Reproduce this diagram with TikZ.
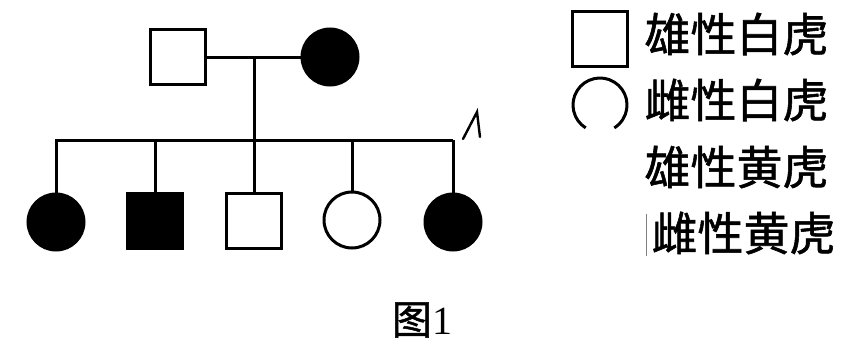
\documentclass[tikz,border=0pt]{standalone}
\usepackage{fontspec}
\newfontfamily\cjk[FakeBold=1.2]{Noto Sans CJK SC}
\newfontfamily\serifnum{Liberation Serif}
\begin{document}
\begin{tikzpicture}[x=1pt,y=-1pt, line width=3pt,
  male/.style={draw, rectangle, minimum size=55pt, inner sep=0pt},
  female/.style={draw, circle, minimum size=56pt, inner sep=0pt},
  aff/.style={fill=black},
  lbl/.style={anchor=west, inner sep=0pt, font=\cjk\fontsize{46}{46}\selectfont},
  stray/.style={line width=2.4pt, line cap=round}]
\useasboundingbox (0,0) rectangle (855,348);
% parents
\node[male] (fa) at (177.5,57) {};
\node[female,aff] (mo) at (330,57) {};
\draw (fa.east) -- (mo.west);
\coordinate (mj) at (254,57);
% sibship line
\coordinate (sl) at (55,140);
\coordinate (sr) at (453,140);
\draw (sl) -- (sr);
% children
\node[female,aff] (c1) at (56,222) {};
\node[male,aff] (c2) at (155,221) {};
\node[male] (c3) at (254,221) {};
\node[female] (c4) at (352,220) {};
\node[female,aff] (c5) at (453,222) {};
\draw (c1.north |- sl) -- (c1.north);
\draw (c2.north |- sl) -- (c2.north);
\draw (mj) -- (c3.north);
\draw (c4.north |- sl) -- (c4.north);
\draw (c5.north |- sl) -- (c5.north);
% stray mark
\coordinate (s1) at (463,139);
\coordinate (s2) at (477,112);
\coordinate (s3) at (480,137);
\draw[stray] (s1) -- (s2) -- (s3);
% legend
\node[male] (lm) at (600,39) {};
\coordinate (lc) at (600,105);
\draw (lc) ++(122:27) arc (122:418:27);
\node[lbl] (t1) at (643,34) {雄性白虎};
\node[lbl] (t2) at (643,100) {雌性白虎};
\node[lbl] (t3) at (643,167) {雄性黄虎};
\node[lbl] (t4) at (650,233) {雌性黄虎};
\coordinate (b1) at (646,214);
\coordinate (b2) at (646,256);
\draw[line width=0.8pt, gray] (b1) -- (b2);
% caption
\node[inner sep=0pt] (cap) at (422,320) {{\cjk\fontsize{40}{40}\selectfont 图}{\serifnum\fontsize{40}{40}\selectfont 1}};
\end{tikzpicture}
\end{document}
